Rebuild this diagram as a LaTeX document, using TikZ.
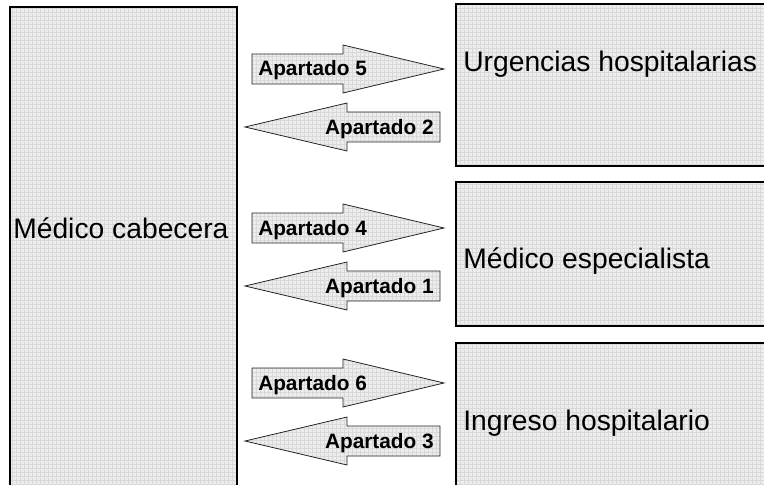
\documentclass[tikz,border=0pt]{standalone}
\usepackage{fontspec}
\setmainfont{Liberation Sans}
\definecolor{gridfill}{HTML}{EDEDED}
\definecolor{gridline}{HTML}{D9D9D9}
\tikzset{
 gridded/.style={fill=gridfill, path picture={\draw[gridline, very thin, step=3pt] (path picture bounding box.south west) grid (path picture bounding box.north east);}},
 caja/.style={gridded, draw=black, line width=1.5pt},
 flecha/.style={gridded, draw=black!85, line width=0.6pt, line join=miter},
 titulo/.style={font=\fontsize{21.2}{25}\selectfont, inner sep=0pt, anchor=base west},
 apartado/.style={font=\fontsize{15.6}{18}\selectfont\bfseries, inner sep=0pt}
}
\begin{document}
\begin{tikzpicture}[x=0.75pt,y=-0.75pt]
 \clip (0,0) rectangle (764,485);
 % cajas
 \draw[caja] (10,7) rectangle (237,500);
 \draw[caja] (456,4) rectangle (780,166);
 \draw[caja] (456,182) rectangle (780,326);
 \draw[caja] (456,343) rectangle (780,500);
 \node[titulo] (cabecera) at (13,238) {Médico cabecera};
 \node[titulo] (urgencias) at (463,72) {Urgencias hospitalarias};
 \node[titulo] (especialista) at (463,268) {Médico especialista};
 \node[titulo] (ingreso) at (463,430) {Ingreso hospitalario};
 % flechas
 \draw[flecha] (252,54)--(343,54)--(343,45)--(444,69)--(343,93)--(343,84)--(252,84)--cycle;
 \draw[flecha] (440,112)--(347,112)--(347,103)--(245,127)--(347,151)--(347,142)--(440,142)--cycle;
 \draw[flecha] (252,213)--(343,213)--(343,204)--(444,228)--(343,252)--(343,243)--(252,243)--cycle;
 \draw[flecha] (440,271)--(347,271)--(347,262)--(245,286)--(347,310)--(347,301)--(440,301)--cycle;
 \draw[flecha] (252,368)--(343,368)--(343,359)--(444,383)--(343,407)--(343,398)--(252,398)--cycle;
 \draw[flecha] (440,426)--(347,426)--(347,417)--(245,441)--(347,465)--(347,456)--(440,456)--cycle;
 \node[apartado, anchor=base west] (ap5) at (258,76) {Apartado 5};
 \node[apartado, anchor=base east] (ap2) at (434,134) {Apartado 2};
 \node[apartado, anchor=base west] (ap4) at (258,235) {Apartado 4};
 \node[apartado, anchor=base east] (ap1) at (434,293) {Apartado 1};
 \node[apartado, anchor=base west] (ap6) at (258,390) {Apartado 6};
 \node[apartado, anchor=base east] (ap3) at (434,448) {Apartado 3};
\end{tikzpicture}
\end{document}
